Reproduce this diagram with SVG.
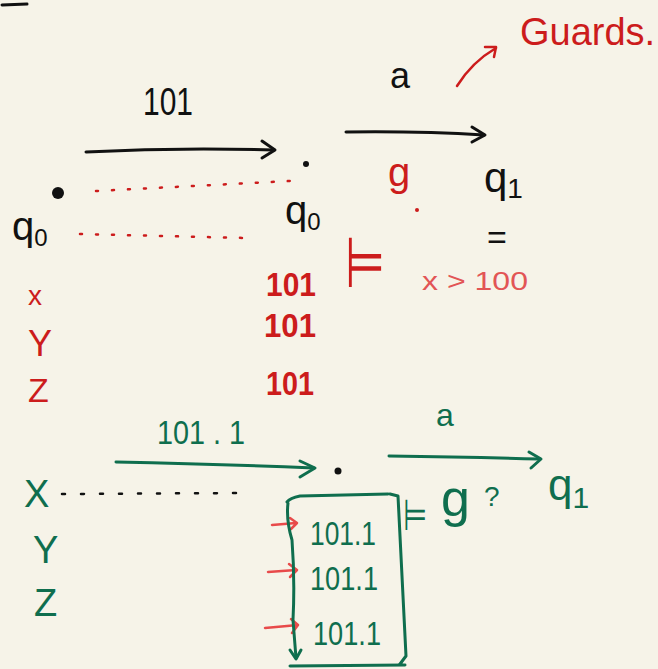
<svg xmlns="http://www.w3.org/2000/svg" width="658" height="669" viewBox="0 0 658 669">
<defs>
<style>
.t{font-family:"Liberation Sans","DejaVu Sans",sans-serif}
.k{fill:#111}
.r{fill:#cc1c1c}
.p{fill:#e25555}
.g{fill:#0f6e4e}
.sk{stroke:#111;stroke-width:3;fill:none;stroke-linecap:round;stroke-linejoin:round}
.sr{stroke:#cc1c1c;stroke-width:2.5;fill:none;stroke-linecap:round;stroke-linejoin:round}
.sp{stroke:#e84a4a;stroke-width:2.5;fill:none;stroke-linecap:round;stroke-linejoin:round}
.sg{stroke:#0f6e4e;stroke-width:3;fill:none;stroke-linecap:round;stroke-linejoin:round}
.dr{stroke:#cc1c1c;stroke-width:2.5;fill:none;stroke-dasharray:2 14;stroke-linecap:round}
.dk{stroke:#111;stroke-width:2.5;fill:none;stroke-dasharray:3 16;stroke-linecap:round}
</style>
</defs>
<rect width="658" height="669" fill="#f6f3e8"/>
<path d="M2 5 L27 4" class="sk" stroke-width="4"/>

<g id="connectors">
<path d="M86 152 Q180 147 274 150" class="sk"/>
<path d="M262 141 L275 150 L262 158" class="sk"/>
<path d="M346 132 Q420 131 484 135" class="sk"/>
<path d="M472 127 L485 135 L472 142" class="sk"/>
<path d="M457 86 Q472 62 496 48" class="sr"/>
<path d="M485 47 L496 47 L494 57" class="sr"/>
<path d="M96 191 L290 181" class="dr"/>
<path d="M80 234 L246 238" class="dr"/>
<path d="M116 462 Q220 464 314 468" class="sg"/>
<path d="M300 461 L315 468 L300 477" class="sg"/>
<path d="M389 456 Q470 457 540 459" class="sg"/>
<path d="M529 452 L541 459 L531 468" class="sg"/>
<path d="M62 494 L240 493" class="dk"/>
<path d="M272 525 L296 523 M290 518 L297 523 L291 529" class="sp"/>
<path d="M268 572 L296 570 M289 564 L297 570 L290 577" class="sp"/>
<path d="M265 628 L298 625 M291 619 L298 625 L292 633" class="sp"/>
</g>

<g id="top-left">
<text x="143" y="115" class="t k" font-size="38" textLength="50" lengthAdjust="spacingAndGlyphs">101</text>
<circle cx="306" cy="164" r="3" class="k"/>
<circle cx="58" cy="193" r="6" class="k"/>
<text x="12" y="240" class="t k" font-size="40">q<tspan font-size="24" dy="6">0</tspan></text>
<text x="285" y="224" class="t k" font-size="40">q<tspan font-size="24" dy="6">0</tspan></text>
</g>

<g id="top-right">
<text x="390" y="88" class="t k" font-size="36">a</text>
<text x="520" y="45" class="t r" font-size="38">Guards.</text>
<text x="388" y="186" class="t r" font-size="40">g</text>
<circle cx="417" cy="210" r="2" class="r"/>
<text x="484" y="192" class="t k" font-size="42">q<tspan font-size="28" dy="6">1</tspan></text>
<text x="487" y="249" class="t k" font-size="34">=</text>
<text x="0" y="0" class="t r" font-size="44" textLength="40" lengthAdjust="spacingAndGlyphs" transform="translate(345 287) scale(1 1.6)">⊨</text>
<text x="422" y="290" class="t p" font-size="26" textLength="106" lengthAdjust="spacingAndGlyphs">x &gt; 100</text>
</g>

<g id="red-vars">
<text x="28" y="305" class="t r" font-size="28">x</text>
<text x="28" y="356" class="t r" font-size="36">Y</text>
<text x="28" y="402" class="t r" font-size="34">Z</text>
<text x="266" y="296" class="t r" font-size="34" font-weight="bold" textLength="50" lengthAdjust="spacingAndGlyphs">101</text>
<text x="264" y="337" class="t r" font-size="34" font-weight="bold" textLength="52" lengthAdjust="spacingAndGlyphs">101</text>
<text x="266" y="395" class="t r" font-size="34" font-weight="bold" textLength="48" lengthAdjust="spacingAndGlyphs">101</text>
</g>

<g id="bottom">
<text x="157" y="444" class="t g" font-size="34" textLength="88" lengthAdjust="spacingAndGlyphs">101 . 1</text>
<circle cx="338" cy="471" r="3.5" class="k"/>
<text x="436" y="426" class="t g" font-size="32">a</text>
<text x="548" y="500" class="t g" font-size="44">q<tspan font-size="30" dy="8">1</tspan></text>
<text x="24" y="507" class="t g" font-size="38">X</text>
<text x="33" y="563" class="t g" font-size="38">Y</text>
<text x="34" y="616" class="t g" font-size="38">Z</text>
<text x="0" y="0" class="t g" font-size="36" textLength="24" lengthAdjust="spacingAndGlyphs" transform="translate(403 530) scale(1 1.2)">⊨</text>
<text x="441" y="516" class="t g" font-size="52">g</text>
<text x="484" y="506" class="t g" font-size="28">?</text>
</g>

<g id="box">
<path d="M287 502 Q290 498 300 496 L388 494 M288 503 Q286 520 292 540 Q295 580 293 620 L296 658" class="sg"/>
<path d="M290 650 L296 659 L301 650" class="sg"/>
<path d="M390 494 L398 496 Q402 580 406 656 L400 664 M290 666 L405 665" class="sg"/>
<text x="310" y="545" class="t g" font-size="34" textLength="66" lengthAdjust="spacingAndGlyphs">101.1</text>
<text x="310" y="590" class="t g" font-size="34" textLength="68" lengthAdjust="spacingAndGlyphs">101.1</text>
<text x="313" y="645" class="t g" font-size="34" textLength="68" lengthAdjust="spacingAndGlyphs">101.1</text>
</g>
</svg>
